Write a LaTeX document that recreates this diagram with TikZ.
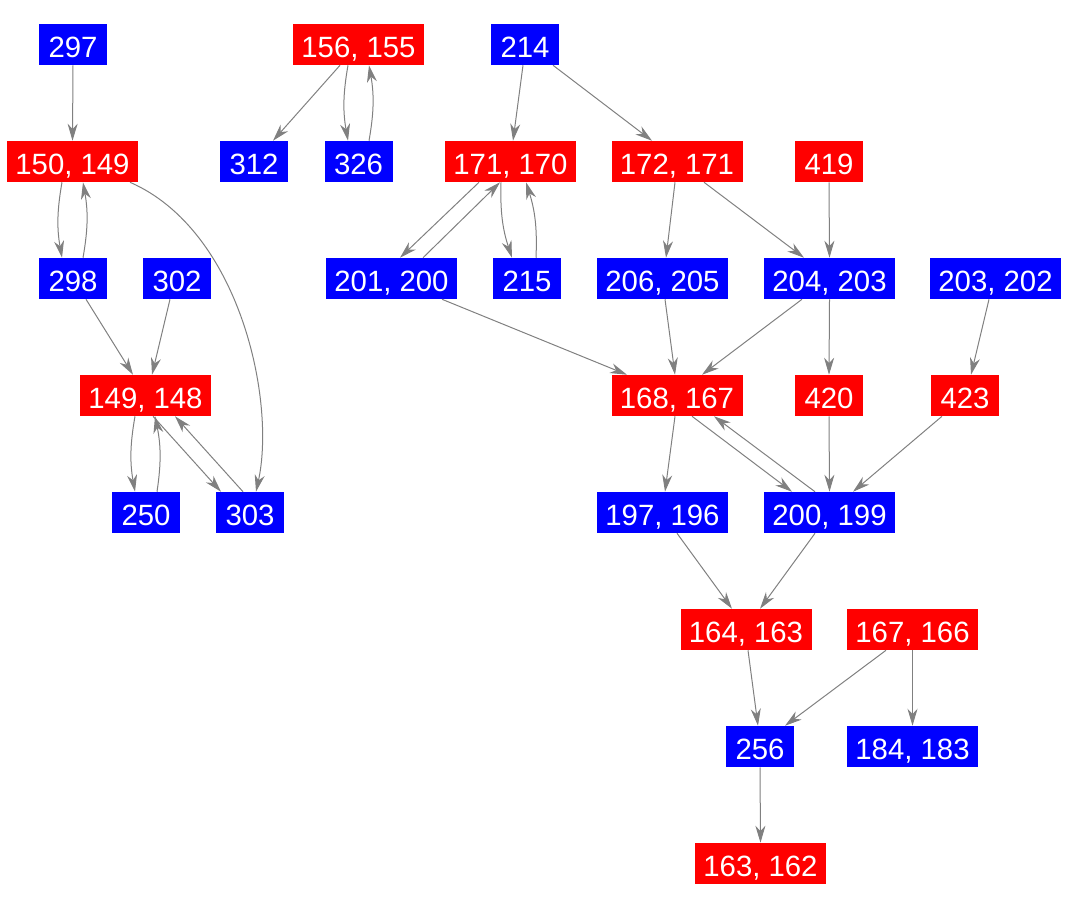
\documentclass[tikz,border=0pt]{standalone}
\usepackage{fontspec}
\setmainfont{Liberation Sans}
\usetikzlibrary{arrows.meta,calc}
\definecolor{nred}{RGB}{255,0,0}
\definecolor{nblue}{RGB}{0,0,255}
\definecolor{egray}{RGB}{128,128,128}
\begin{document}
\begin{tikzpicture}[x=0.75pt,y=-0.75pt,
  box/.style={inner sep=0pt, minimum height=30.75pt, text=white, text height=19.25pt, text depth=0pt, font=\fontsize{22}{22}\selectfont},
  one/.style={box, minimum width=51pt},
  two/.style={box, minimum width=98.25pt},
  rb/.style={fill=nred},
  bb/.style={fill=nblue},
  edge/.style={draw=egray, line width=0.75pt, -{Stealth[length=12.75pt,width=7.5pt,inset=4pt]}}]
\useasboundingbox (0,0) rectangle (1069,908);
% row 1
\node[one,bb] (n297) at (73,44.5) {297};
\node[two,rb] (n156) at (358.5,44.5) {156, 155};
\node[one,bb] (n214) at (525,44.5) {214};
% row 2
\node[two,rb] (n150) at (72.5,161.5) {150, 149};
\node[one,bb] (n312) at (254,161.5) {312};
\node[one,bb] (n326) at (358.5,161.5) {326};
\node[two,rb] (n171) at (510.5,161.5) {171, 170};
\node[two,rb] (n172) at (677,161.5) {172, 171};
\node[one,rb] (n419) at (829,161.5) {419};
% row 3
\node[one,bb] (n298) at (73,278.5) {298};
\node[one,bb] (n302) at (177,278.5) {302};
\node[two,bb] (n201) at (391.5,278.5) {201, 200};
\node[one,bb] (n215) at (527,278.5) {215};
\node[two,bb] (n206) at (662.5,278.5) {206, 205};
\node[two,bb] (n204) at (829.5,278.5) {204, 203};
\node[two,bb] (n203) at (995.5,278.5) {203, 202};
% row 4
\node[two,rb] (n149) at (145.5,395.5) {149, 148};
\node[two,rb] (n168) at (677,395.5) {168, 167};
\node[one,rb] (n420) at (829,395.5) {420};
\node[one,rb] (n423) at (965,395.5) {423};
% row 5
\node[one,bb] (n250) at (146,512.5) {250};
\node[one,bb] (n303) at (250,512.5) {303};
\node[two,bb] (n197) at (662.5,512.5) {197, 196};
\node[two,bb] (n200) at (829.5,512.5) {200, 199};
% row 6
\node[two,rb] (n164) at (746,629.5) {164, 163};
\node[two,rb] (n167) at (912.5,629.5) {167, 166};
% row 7
\node[one,bb] (n256) at (760,746.5) {256};
\node[two,bb] (n184) at (912.5,746.5) {184, 183};
% row 8
\node[two,rb] (n163) at (760.5,863.5) {163, 162};

% edges
\draw[edge] (n297.south) -- (n150.north);
\draw[edge] ($(n156.south)+(-18.5,0)$) -- ($(n312.north)+(19,0)$);
\draw[edge] ($(n156.south)+(-10.5,0)$) to[bend right=10] ($(n326.north)+(-10.5,0)$);
\draw[edge] ($(n326.north)+(10.5,0)$) to[bend right=10] ($(n156.south)+(10.5,0)$);
\draw[edge] ($(n214.south)+(-2,0)$) -- ($(n171.north)+(2.5,0)$);
\draw[edge] ($(n214.south)+(28,0)$) -- ($(n172.north)+(-25,0)$);
\draw[edge] ($(n150.south)+(-10.5,0)$) to[bend right=10] ($(n298.north)+(-11,0)$);
\draw[edge] ($(n298.north)+(10,0)$) to[bend right=10] ($(n150.south)+(10.5,0)$);
\draw[edge] ($(n150.south)+(57.5,0)$) .. controls +(110,48) and +(20,-91) .. ($(n303.north)+(6,0)$);
\draw[edge] ($(n298.south)+(13,0)$) -- ($(n149.north)+(-12.5,0)$);
\draw[edge] ($(n302.south)+(-7,0)$) -- ($(n149.north)+(6.5,0)$);
\draw[edge] ($(n149.south)+(-10.5,0)$) to[bend right=10] ($(n250.north)+(-11,0)$);
\draw[edge] ($(n250.north)+(11,0)$) to[bend right=10] ($(n149.south)+(9.5,0)$);
\draw[edge] ($(n149.south)+(7.5,0)$) -- ($(n303.north)+(-29,0)$);
\draw[edge] ($(n303.north)+(-7,0)$) -- ($(n149.south)+(29.5,0)$);
\draw[edge] ($(n171.south)+(-31.5,0)$) -- ($(n201.north)+(8.5,0)$);
\draw[edge] ($(n201.north)+(31.5,0)$) -- ($(n171.south)+(-10.5,0)$);
\draw[edge] ($(n171.south)+(-9.5,0)$) to[bend right=10] ($(n215.north)+(-15,0)$);
\draw[edge] ($(n215.north)+(9,0)$) to[bend right=10] ($(n171.south)+(15.5,0)$);
\draw[edge] ($(n172.south)+(-2,0)$) -- ($(n206.north)+(3.5,0)$);
\draw[edge] ($(n172.south)+(27,0)$) -- ($(n204.north)+(-25.5,0)$);
\draw[edge] (n419.south) -- (n204.north);
\draw[edge] ($(n201.south)+(50.5,0)$) -- ($(n168.north)+(-50,0)$);
\draw[edge] ($(n206.south)+(2.5,0)$) -- ($(n168.north)+(-2,0)$);
\draw[edge] ($(n204.south)+(-27.5,0)$) -- ($(n168.north)+(25,0)$);
\draw[edge] (n204.south) -- (n420.north);
\draw[edge] ($(n203.south)+(-6.5,0)$) -- ($(n423.north)+(6,0)$);
\draw[edge] ($(n168.south)+(-2,0)$) -- ($(n197.north)+(2.5,0)$);
\draw[edge] ($(n168.south)+(15,0)$) -- ($(n200.north)+(-37.5,0)$);
\draw[edge] ($(n200.north)+(-14.5,0)$) -- ($(n168.south)+(37,0)$);
\draw[edge] (n420.south) -- (n200.north);
\draw[edge] ($(n423.south)+(-23,0)$) -- ($(n200.north)+(23.5,0)$);
\draw[edge] ($(n197.south)+(14.5,0)$) -- ($(n164.north)+(-14,0)$);
\draw[edge] ($(n200.south)+(-14.5,0)$) -- ($(n164.north)+(14,0)$);
\draw[edge] ($(n164.south)+(2,0)$) -- ($(n256.north)+(-2,0)$);
\draw[edge] ($(n167.south)+(-26.5,0)$) -- ($(n256.north)+(25,0)$);
\draw[edge] (n167.south) -- (n184.north);
\draw[edge] (n256.south) -- (n163.north);
\end{tikzpicture}
\end{document}
